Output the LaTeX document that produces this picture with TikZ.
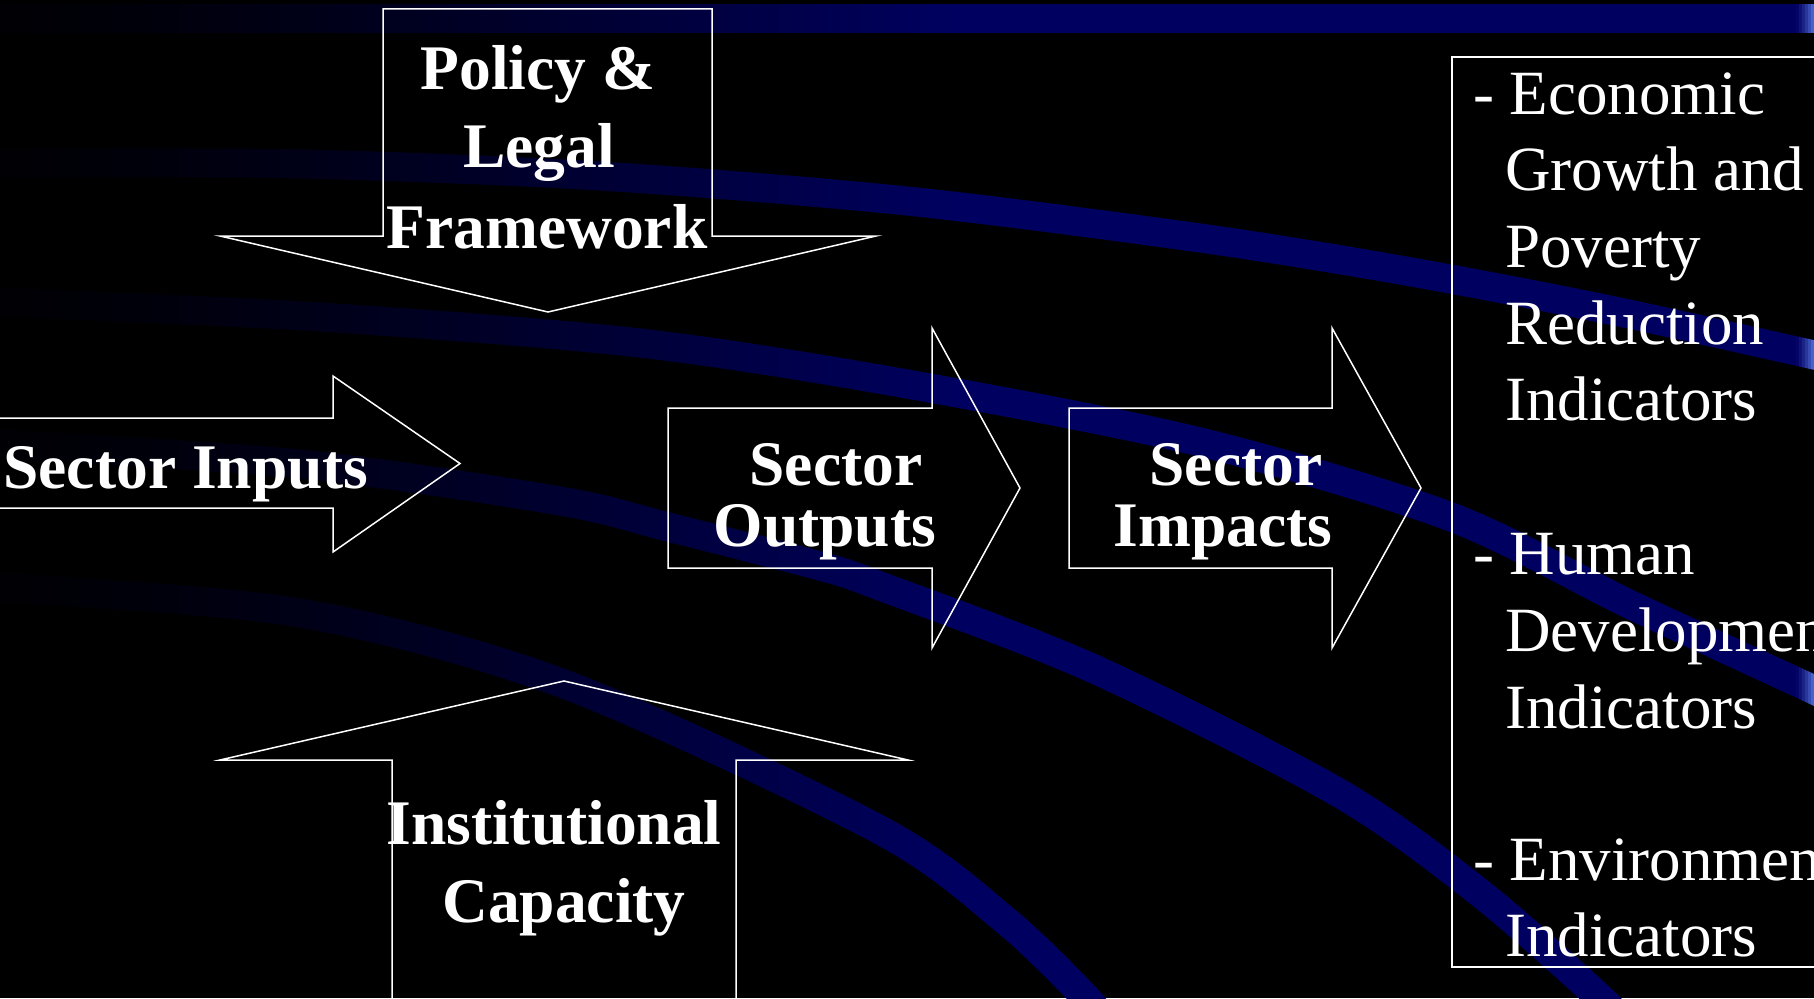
\documentclass[tikz,border=0pt]{standalone}
\usepackage{fontspec}
\setmainfont{Liberation Serif}

\definecolor{bandnavy}{RGB}{0,0,96}
\definecolor{bandglow}{RGB}{80,110,215}

% the sweeping background bands, stroked in one colour
\newcommand\sweepbands[1]{%
  \draw[band, draw=#1] (-40,18.5) -- (1860,18.5);
  \draw[band, draw=#1] plot[smooth] coordinates {(-40,163) (0,163) (300,164) (600,176) (907,201) (1200,238) (1400,270) (1600,308) (1814,355) (1860,366)};
  \draw[band, draw=#1] plot[smooth] coordinates {(-40,300) (0,302) (320,317) (640,343) (907,384) (1200,442) (1451,517) (1631,605) (1814,690) (1860,712)};
  \draw[band, draw=#1] plot[smooth] coordinates {(-40,442) (0,444) (300,464) (560,501) (668,527) (820,566) (880,586) (1094,669) (1339,793) (1480,893) (1600,998) (1640,1040)};
  \draw[band, draw=#1] plot[smooth] coordinates {(-40,584) (0,587) (300,613) (564,684) (880,830) (1006,921) (1086,998) (1120,1040)};
}

\tikzset{
  band/.style={line width=29pt, line cap=butt},
  shapeline/.style={draw=white, line width=1.5pt, line join=miter},
  lbl/.style={text=white, inner sep=0pt, anchor=base,
    font=\fontsize{63.5}{63.5}\selectfont\bfseries},
  ind/.style={text=white, inner sep=0pt, anchor=base west,
    font=\fontsize{63}{63}\selectfont},
}

\begin{document}
\begin{tikzpicture}[x=1pt, y=-1pt]
\useasboundingbox (0,0) rectangle (1814,998);
\begin{scope}
\clip (0,0) rectangle (1814,998);
\fill[black] (0,0) rectangle (1814,998);

% bands fade in from the left edge
\foreach \i in {0,...,99} {
  \pgfmathsetmacro\fr{min(100, 5 + 95*((\i*10+5)/950)^1.4)}
  \begin{scope}
    \clip (\i*10,-50) rectangle (\i*10+10.8,1050);
    \sweepbands{bandnavy!\fr!black}
  \end{scope}
}
\begin{scope}
  \clip (1000,-50) rectangle (1797,1050);
  \sweepbands{bandnavy}
\end{scope}
% bright rim at the right edge
\foreach \i in {0,...,5} {
  \pgfmathsetmacro\gl{100*((\i*3+1.5)/18)^1.3}
  \begin{scope}
    \clip (1796+\i*3,-50) rectangle (1796+\i*3+3.4,1050);
    \sweepbands{bandglow!\gl!bandnavy}
  \end{scope}
}

% block arrows
\draw[shapeline] (383,9) -- (712,9) -- (712,236) -- (876,236) -- (548,312)
  -- (220,236) -- (383,236) -- cycle;
\draw[shapeline] (-10,418) -- (333,418) -- (333,376) -- (460,463.5)
  -- (333,552) -- (333,508) -- (-10,508) -- cycle;
\draw[shapeline] (668,408) -- (932,408) -- (932,328) -- (1020,488)
  -- (932,648) -- (932,568) -- (668,568) -- cycle;
\draw[shapeline] (1069,408) -- (1332,408) -- (1332,328) -- (1421,488)
  -- (1332,648) -- (1332,568) -- (1069,568) -- cycle;
\draw[shapeline] (564,681) -- (908,760) -- (736,760) -- (736,1010)
  -- (392,1010) -- (392,760) -- (220,760) -- cycle;
% indicator panel
\draw[shapeline] (1452,57) rectangle (1840,967);

% arrow labels
\node[lbl] (policy1) at (538,89) {Policy \&};
\node[lbl] (policy2) at (539,167) {Legal};
\node[lbl] (policy3) at (547,248) {Framework};
\node[lbl] (inputs) at (186,488) {Sector Inputs};
\node[lbl] (outputs1) at (836,485) {Sector};
\node[lbl] (outputs2) at (825,546) {Outputs};
\node[lbl] (impacts1) at (1236,485) {Sector};
\node[lbl] (impacts2) at (1223,546) {Impacts};
\node[lbl] (capacity1) at (554,844) {Institutional};
\node[lbl] (capacity2) at (564,922) {Capacity};

% indicator list
\node[ind] (eco1) at (1473,114.3) {- Economic};
\node[ind] (eco2) at (1505,190.9) {Growth and};
\node[ind] (eco3) at (1505,267.5) {Poverty};
\node[ind] (eco4) at (1505,344.1) {Reduction};
\node[ind] (eco5) at (1505,420.7) {Indicators};
\node[ind] (hum1) at (1473,574.5) {- Human};
\node[ind] (hum2) at (1505,651.5) {Development};
\node[ind] (hum3) at (1505,728.0) {Indicators};
\node[ind] (env1) at (1473,880.3) {- Environment};
\node[ind] (env2) at (1505,956.9) {Indicators};
\end{scope}
\end{tikzpicture}
\end{document}
